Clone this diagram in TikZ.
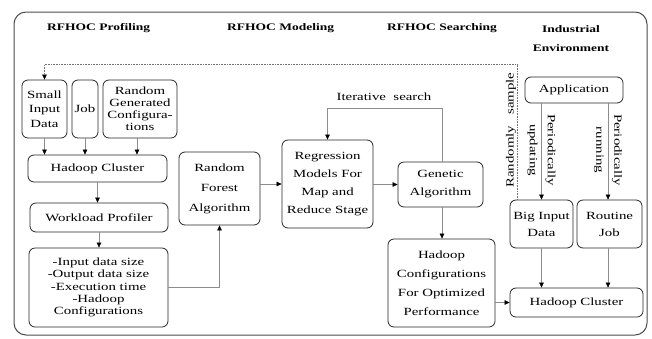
\documentclass[tikz,border=0pt]{standalone}
\usepackage{fontspec}
\setmainfont{Liberation Serif}[FakeStretch=1.35]
\usetikzlibrary{arrows.meta}
\tikzset{
  box/.style={draw=black!85, rounded corners=6pt, line width=0.8pt, align=center, inner sep=1pt},
  conn/.style={draw=black!45, line width=0.6pt, -{Triangle[length=5pt,width=4.5pt,color=black]}},
  dconn/.style={draw=black!55, line width=0.6pt, densely dotted, -{Triangle[length=5pt,width=4.5pt,color=black]}},
  title/.style={font=\fontsize{10}{19}\selectfont\bfseries, inner sep=0pt},
  lbl/.style={inner sep=0pt, align=center}
}
\newcommand{\fs}[1]{\fontsize{11}{#1}\selectfont}
\begin{document}
\begin{tikzpicture}[x=1pt,y=-1pt]
\useasboundingbox (0,0) rectangle (652,338);
\draw[draw=black!70, line width=1pt, rounded corners=12pt] (14,12) rectangle (647,335);

% titles
\node[title, anchor=west] (t1) at (47,28) {RFHOC Profiling};
\node[title, anchor=west] (t2) at (227,28) {RFHOC Modeling};
\node[title, anchor=west] (t3) at (387,28) {RFHOC Searching};
\node[title, align=center] (t4) at (571,39) {Industrial\\Environment};

% profiling
\node[box, minimum width=45, minimum height=58, font=\fs{14.5}] (sid) at (44.5,109) {Small\\Input\\Data};
\node[box, minimum width=26, minimum height=58, font=\fs{14}] (job) at (85,109) {Job};
\node[box, minimum width=74, minimum height=58, font=\fs{12}] (rgc) at (140,109) {Random\\Generated\\Configura-\\tions};
\node[box, minimum width=139, minimum height=27, font=\fs{14}] (hc1) at (97.5,168.5) {Hadoop Cluster};
\node[box, minimum width=138, minimum height=29, font=\fs{14}] (wp) at (99,217.5) {Workload Profiler};
\node[box, minimum width=139, minimum height=79, font=\fs{12.3}] (out) at (98.5,287.5) {-Input data size\\-Output data size\\-Execution time\\-Hadoop\\Configurations};

% modeling
\node[box, minimum width=81, minimum height=73, font=\fs{20}] (rf) at (219.5,188.5) {Random\\Forest\\Algorithm};
\node[box, minimum width=91, minimum height=88, font=\fs{18.3}] (reg) at (327.5,184) {Regression\\Models For\\Map and\\Reduce Stage};

% searching
\node[box, minimum width=85, minimum height=45, font=\fs{18}] (ga) at (440.5,184.5) {Genetic\\Algorithm};
\node[box, minimum width=107, minimum height=88, font=\fs{19}] (hcop) at (441.5,283) {Hadoop\\Configurations\\For Optimized\\Performance};

% industrial
\node[box, minimum width=98, minimum height=26, font=\fs{14}] (app) at (574,90) {Application};
\node[box, minimum width=63, minimum height=48, font=\fs{17}] (bid) at (541.5,224) {Big Input\\Data};
\node[box, minimum width=65, minimum height=48, font=\fs{17}] (rj) at (609.5,224) {Routine\\Job};
\node[box, minimum width=133, minimum height=29, font=\fs{14}] (hc2) at (576.5,302.5) {Hadoop Cluster};

% connectors profiling
\draw[conn] (sid.south) -- (sid.south |- hc1.north);
\draw[conn] (job.south) -- (job.south |- hc1.north);
\draw[conn] ([xshift=-3pt]rgc.south) -- ([xshift=-3pt]rgc.south |- hc1.north);
\draw[conn] (hc1.south) -- (hc1.south |- wp.north);
\draw[conn] (wp.south) -- (wp.south |- out.north);
\draw[conn] (out.east) -| (rf.south);

% modeling / searching
\draw[conn] (rf.east |- reg.center) -- (reg.west);
\draw[conn] (reg.east |- ga.west) -- (ga.west);
\coordinate (itop) at (0,108);
\draw[conn] ([xshift=1.5pt]ga.north) -- ([xshift=1.5pt]ga.north |- itop) -| (reg.north);
\node[lbl, font=\fs{14}] (its) at (384,97) {Iterative\ \ search};
\draw[conn] ([xshift=1.5pt]ga.south) -- ([xshift=1.5pt]ga.south |- hcop.north);
\draw[conn] (hcop.east |- hc2.west) -- (hc2.west);

% industrial
\draw[conn] (bid.north |- app.south) -- (bid.north);
\draw[conn] ([xshift=-1.5pt]rj.north |- app.south) -- ([xshift=-1.5pt]rj.north);
\draw[conn] (bid.south) -- (bid.south |- hc2.north);
\draw[conn] ([xshift=-1.5pt]rj.south) -- ([xshift=-1.5pt]rj.south |- hc2.north);
\node[lbl, rotate=-90, font=\fs{18}] (pu) at (541.5,150) {Periodically\\updating};
\node[lbl, rotate=-90, font=\fs{18}] (pr) at (608,150) {Periodically\\running};

% sampling loop
\coordinate (dstart) at ([xshift=8pt]bid.north west);
\coordinate (dtop) at (0,64);
\draw[dconn] (dstart) -- (dstart |- dtop) -| (sid.north);
\node[lbl, rotate=90, font=\fs{14}] (rs) at (511,130) {Randomly\ \ \ sample};
\end{tikzpicture}
\end{document}
